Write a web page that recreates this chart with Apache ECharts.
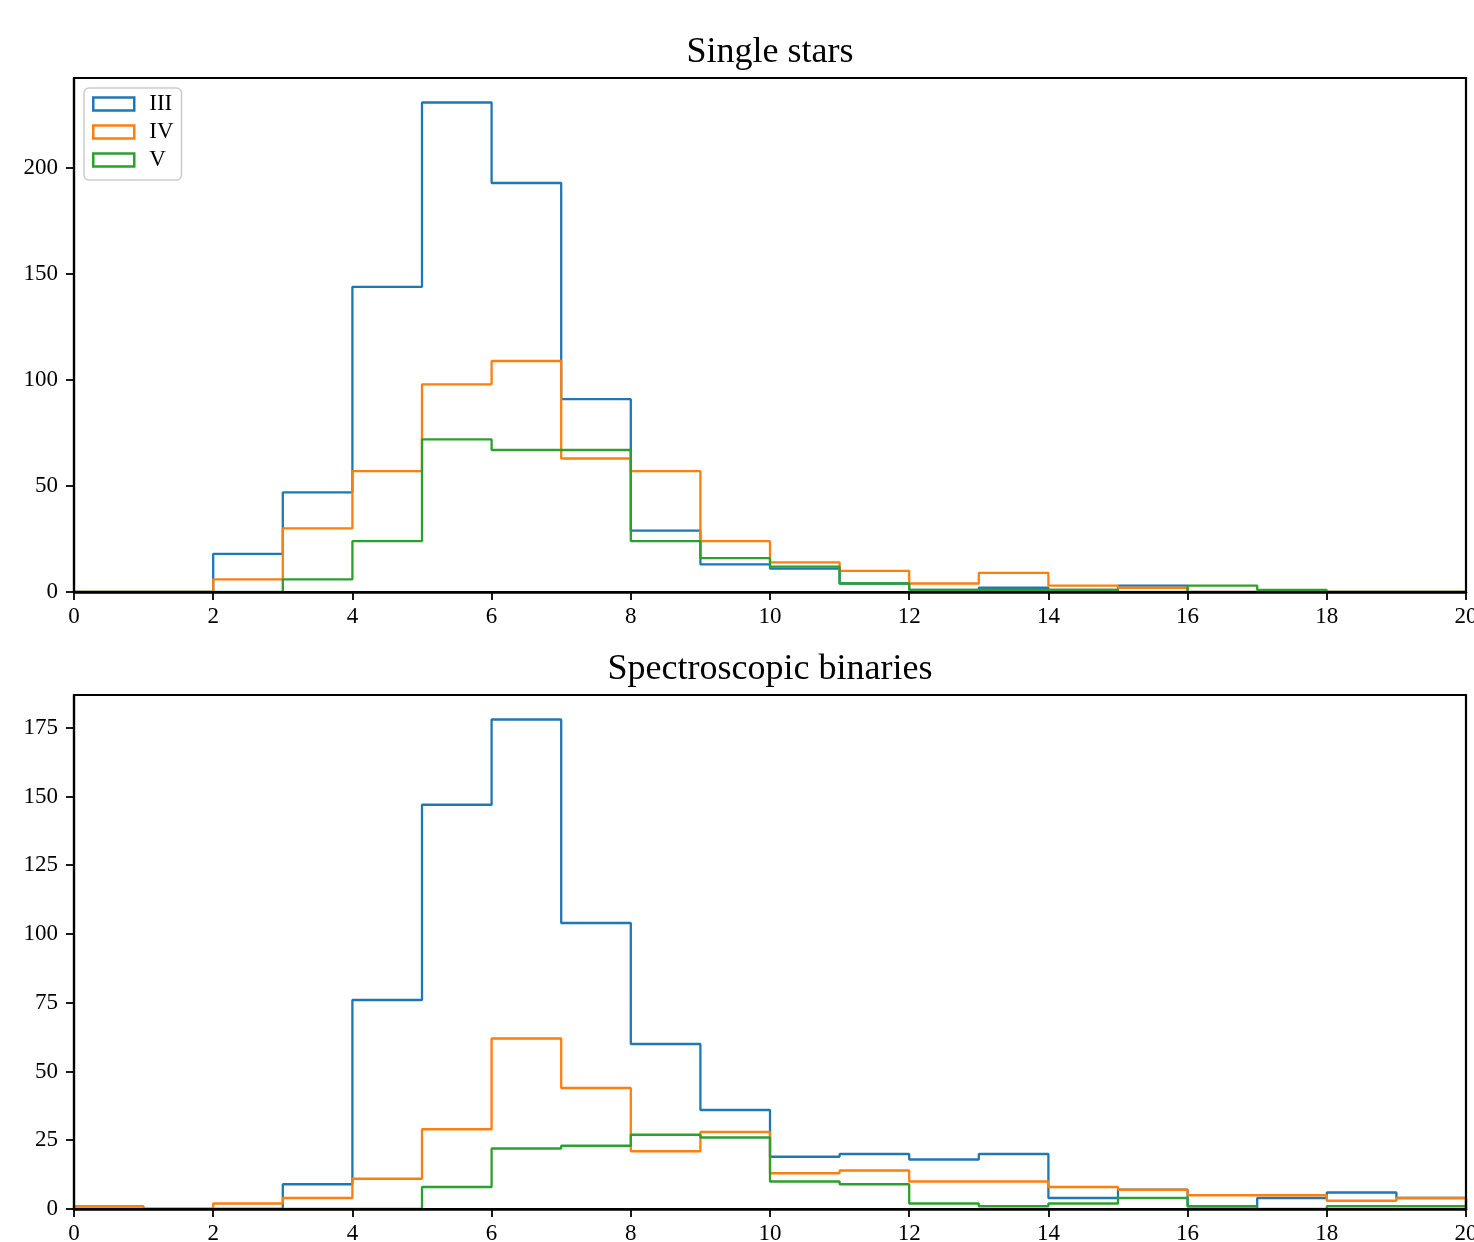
<!DOCTYPE html>
<html>
<head>
<meta charset="utf-8">
<script src="https://cdn.jsdelivr.net/npm/echarts@6/dist/echarts.min.js"></script>
<style>
html,body{margin:0;padding:0;background:#fff;overflow:hidden;}
#chart{width:1474px;height:1242px;}
</style>
</head>
<body>
<div id="chart"></div>
<script>
// ---- data ----
const binEdges = [0,1,2,3,4,5,6,7,8,9,10,11,12,13,14,15,16,17,18,19,20];
const seriesNames = ['III', 'IV', 'V'];
const seriesColors = ['#1f77b4', '#ff7f0e', '#2ca02c'];

const titleTop = 'Single stars';
const titleBottom = 'Spectroscopic binaries';

// Single stars counts per bin
const singleIII = [0,0,18,47,144,231,193,91,29,13,11,4,1,2,1,3,0,0,0,0];
const singleIV  = [0,0,6,30,57,98,109,63,57,24,14,10,4,9,3,2,0,0,0,0];
const singleV   = [0,0,0,6,24,72,67,67,24,16,12,4,1,1,1,0,3,1,0,0];

// Spectroscopic binaries counts per bin
const sbIII = [0,0,0,9,76,147,178,104,60,36,19,20,18,20,4,7,1,4,6,4];
const sbIV  = [1,0,2,4,11,29,62,44,21,28,13,14,10,10,8,7,5,5,3,4];
const sbV   = [0,0,0,0,0,8,22,23,27,26,10,9,2,1,2,4,1,0,1,1];

const xTicks = [0,2,4,6,8,10,12,14,16,18,20];
const yTicksTop = [0,50,100,150,200];
const yTicksBottom = [0,25,50,75,100,125,150,175];

// ---- helpers ----
function stepData(counts) {
  const pts = [[binEdges[0], 0]];
  for (let i = 0; i < counts.length; i++) pts.push([binEdges[i], counts[i]]);
  pts.push([binEdges[binEdges.length - 1], counts[counts.length - 1]]);
  pts.push([binEdges[binEdges.length - 1], 0]);
  return pts;
}

const FONT = '"Liberation Serif", "DejaVu Serif", serif';
const tickFont = 23;

function xAxisFor(gridIndex) {
  return {
    type: 'value', gridIndex: gridIndex,
    min: binEdges[0], max: binEdges[binEdges.length - 1], interval: 2,
    z: 10,
    axisLine: { show: true, onZero: false, lineStyle: { color: '#000', width: 2.7 } },
    axisTick: { show: true, inside: false, length: 8, lineStyle: { color: '#000', width: 1.8 }, customValues: xTicks },
    axisLabel: { color: '#000', fontFamily: FONT, fontSize: tickFont, margin: 13, customValues: xTicks,
                 showMinLabel: true, showMaxLabel: true, hideOverlap: false },
    splitLine: { show: false }
  };
}
function yAxisFor(gridIndex, maxV, ticks) {
  return {
    type: 'value', gridIndex: gridIndex,
    min: 0, max: maxV * 1.05,
    z: 10,
    axisLine: { show: true, onZero: false, lineStyle: { color: '#000', width: 2.2 } },
    axisTick: { show: true, inside: false, length: 8, lineStyle: { color: '#000', width: 1.8 }, customValues: ticks },
    axisLabel: { color: '#000', fontFamily: FONT, fontSize: tickFont, margin: 16, customValues: ticks },
    splitLine: { show: false }
  };
}

const groups = [
  { grid: 0, data: [singleIII, singleIV, singleV] },
  { grid: 1, data: [sbIII, sbIV, sbV] }
];

const series = [];
groups.forEach(g => {
  g.data.forEach((counts, k) => {
    series.push({
      type: 'line', name: seriesNames[k],
      xAxisIndex: g.grid, yAxisIndex: g.grid,
      data: stepData(counts),
      step: 'end',
      symbol: 'none', showSymbol: false,
      lineStyle: { color: seriesColors[k], width: 2.3 },
      itemStyle: { color: seriesColors[k] },
      emphasis: { disabled: true },
      silent: true,
      z: 2 + k
    });
  });
});

const maxTop = Math.max(...singleIII, ...singleIV, ...singleV);
const maxBottom = Math.max(...sbIII, ...sbIV, ...sbV);

const gridCommon = { left: 74, right: 8, height: 514, show: true, borderColor: '#000', borderWidth: 2.2, z: 10,
                     backgroundColor: 'transparent', containLabel: false, outerBoundsMode: 'none' };

const chart = echarts.init(document.getElementById('chart'), null, { renderer: 'canvas', width: 1474, height: 1242 });
chart.setOption({
  animation: false,
  backgroundColor: '#fff',
  grid: [
    Object.assign({ top: 78 }, gridCommon),
    Object.assign({ top: 695 }, gridCommon)
  ],
  xAxis: [xAxisFor(0), xAxisFor(1)],
  yAxis: [yAxisFor(0, maxTop, yTicksTop), yAxisFor(1, maxBottom, yTicksBottom)],
  legend: {
    show: true, orient: 'vertical', left: 84, top: 88,
    backgroundColor: '#fff', borderColor: '#cccccc', borderWidth: 1.5, borderRadius: 5,
    padding: [4, 8, 8, 8],
    itemWidth: 41, itemHeight: 13, itemGap: 4,
    selectedMode: false,
    textStyle: { fontFamily: FONT, fontSize: tickFont, color: '#000', lineHeight: 24, padding: [0, 0, 0, 10] },
    data: seriesNames.map((n, k) => ({
      name: n, icon: 'rect',
      itemStyle: { color: '#fff', borderColor: seriesColors[k], borderWidth: 2.5 }
    }))
  },
  graphic: [
    { type: 'text', x: 770, y: 53, z: 20, style: { text: titleTop, font: '36px ' + FONT, fill: '#000', textAlign: 'center', textVerticalAlign: 'middle' } },
    { type: 'text', x: 770, y: 670, z: 20, style: { text: titleBottom, font: '36px ' + FONT, fill: '#000', textAlign: 'center', textVerticalAlign: 'middle' } }
  ],
  series: series
});
</script>
</body>
</html>
